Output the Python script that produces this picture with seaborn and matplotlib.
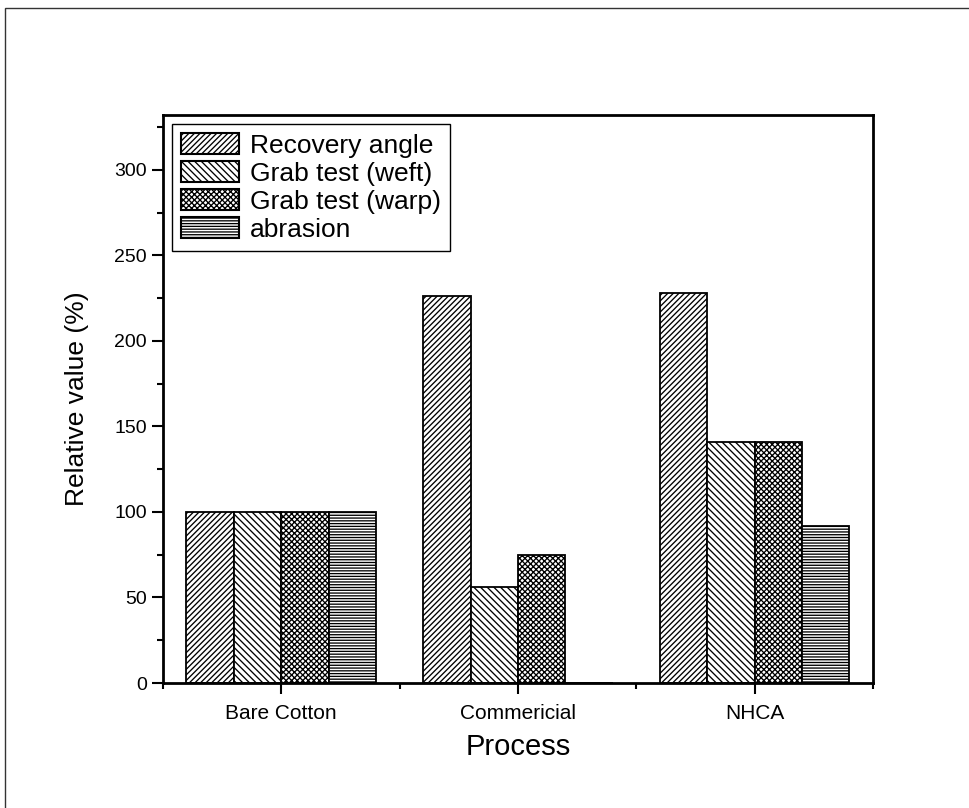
import pandas as pd
import matplotlib.pyplot as plt
import seaborn as sns
from matplotlib.patches import Rectangle
from matplotlib.ticker import MultipleLocator, FixedLocator

processes = ['Bare Cotton', 'Commericial', 'NHCA']
tests = ['Recovery angle', 'Grab test (weft)', 'Grab test (warp)', 'abrasion']
recovery = [100, 226, 228]
weft = [100, 56, 141]
warp = [100, 75, 141]
abrasion = [100, 0, 92]
hatches = ['/' * 6, '\\' * 5, 'x' * 6, '-' * 6]

rows = []
for name, vals in zip(tests, [recovery, weft, warp, abrasion]):
    for p, v in zip(processes, vals):
        rows.append({'Process': p, 'test': name, 'value': v})
df = pd.DataFrame(rows)

sns.set_style('ticks')
plt.rcParams['font.family'] = ['Liberation Sans', 'DejaVu Sans']
plt.rcParams['hatch.linewidth'] = 0.95
plt.rcParams['text.color'] = 'black'
plt.rcParams['axes.labelcolor'] = 'black'

fig = plt.figure(figsize=(9.69, 8.08), dpi=100)
ax = fig.add_axes([0.168, 0.1547, 0.733, 0.703])

sns.barplot(data=df, x='Process', y='value', hue='test', order=processes,
            hue_order=tests, ax=ax, width=0.8, palette=['white'] * 4,
            edgecolor='black', linewidth=1.3, saturation=1)

for cont, h in zip(ax.containers, hatches):
    for bar in cont:
        bar.set_hatch(h)
        bar.set_edgecolor('black')
        bar.set_facecolor('white')

ax.set_xlim(-0.5, 2.5)
ax.set_ylim(0, 332)
ax.yaxis.set_major_locator(MultipleLocator(50))
ax.yaxis.set_minor_locator(MultipleLocator(25))
ax.xaxis.set_minor_locator(FixedLocator([-0.5, 0.5, 1.5, 2.5]))
for s in ax.spines.values():
    s.set_linewidth(2)
    s.set_color('black')
ax.tick_params(axis='both', which='major', direction='out', length=8, width=1.5,
               labelsize=14, colors='black')
ax.tick_params(axis='x', which='major', labelsize=15, pad=7)
ax.tick_params(axis='both', which='minor', direction='out', length=4, width=1.5,
               colors='black')
ax.set_xlabel('Process', fontsize=21, labelpad=7)
ax.set_ylabel('Relative value (%)', fontsize=19, labelpad=18)

leg = ax.legend(loc='upper left', fontsize=19, frameon=True, fancybox=False,
                framealpha=1, edgecolor='black', handlelength=2.2, handleheight=0.85,
                borderaxespad=0.35, labelspacing=0.12, handletextpad=0.4,
                borderpad=0.35)
leg.get_frame().set_linewidth(1)
for hnd, h in zip(leg.legend_handles, hatches):
    hnd.set_hatch(h)
    hnd.set_facecolor('white')
    hnd.set_edgecolor('black')
    hnd.set_linewidth(1.5)

fig.patches.append(Rectangle((5 / 969, -0.01), 1.1, 1 - 8 / 808 + 0.01,
                             transform=fig.transFigure, fill=False,
                             edgecolor='#333333', linewidth=1))

fig.savefig('out.png', dpi=100)
